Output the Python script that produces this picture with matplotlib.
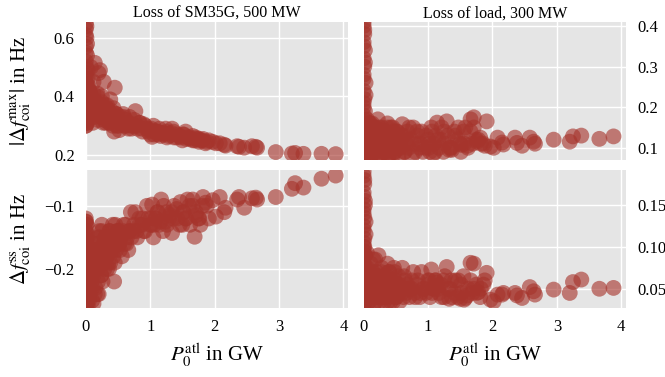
import matplotlib
matplotlib.use('Agg')
import matplotlib.pyplot as plt

# active power flow over the line, P0 atl in GW (shared by all four panels)
p0_atl = [
    # column at zero
    0.00, 0.00, 0.01, 0.00, 0.02, 0.00, 0.01, 0.00, 0.03, 0.00,
    0.01, 0.00, 0.02, 0.00, 0.00, 0.01, 0.03, 0.00, 0.02, 0.00,
    0.00, 0.01, 0.00, 0.02, 0.00, 0.03, 0.01, 0.00, 0.02, 0.00,
    0.00, 0.01, 0.00, 0.02, 0.00, 0.01, 0.00, 0.03, 0.00, 0.01,
    0.00, 0.02, 0.00, 0.01, 0.00, 0.03, 0.00, 0.02, 0.00, 0.01,
    # dense cluster
    0.05, 0.06, 0.08, 0.09, 0.10, 0.11, 0.12, 0.14, 0.15, 0.16,
    0.18, 0.19, 0.20, 0.22, 0.23, 0.25, 0.26, 0.28, 0.30, 0.31,
    0.33, 0.35, 0.37, 0.38, 0.40, 0.42, 0.44, 0.45, 0.47, 0.50,
    0.52, 0.54, 0.56, 0.58, 0.60, 0.62, 0.64, 0.66, 0.68, 0.70,
    0.02, 0.04, 0.05, 0.07, 0.08, 0.10, 0.11, 0.13, 0.14, 0.16,
    0.17, 0.19, 0.21, 0.22, 0.24, 0.25, 0.27, 0.29, 0.30, 0.32,
    0.34, 0.35, 0.37, 0.39, 0.41, 0.43, 0.46, 0.48, 0.51, 0.53,
    0.03, 0.06, 0.09, 0.12, 0.15, 0.18, 0.21, 0.24, 0.27, 0.30,
    0.33, 0.36, 0.39, 0.42, 0.45, 0.48, 0.51, 0.55, 0.59, 0.63,
    0.67, 0.71, 0.75, 0.79, 0.83, 0.87, 0.92, 0.97, 1.02, 1.08,
    # middle band
    0.74, 0.77, 0.80, 0.84, 0.88, 0.90, 0.95, 1.00, 1.03, 1.05,
    1.09, 1.12, 1.14, 1.17, 1.20, 1.25, 1.29, 1.34, 1.37, 1.42,
    1.47, 1.50, 1.52, 1.55, 1.58, 1.62, 1.66, 1.69, 1.71, 1.75,
    1.78, 1.82, 1.88, 1.91,
    1.01, 1.06, 1.11, 1.16, 1.21, 1.26, 1.31, 1.36, 1.41, 1.46,
    1.51, 1.56, 1.61, 1.66, 1.71, 1.76, 1.81, 1.86, 1.24, 1.33,
    # tail
    1.97, 2.02, 2.08, 2.15, 2.17, 2.35, 2.38, 2.46, 2.58, 2.64,
    2.66, 2.95, 3.20, 3.25, 3.38, 3.66, 3.88,
]

# |df max| for loss of SM35G
df_max_gen = [
    0.65, 0.63, 0.60, 0.57, 0.54, 0.52, 0.50, 0.48, 0.46, 0.45,
    0.44, 0.43, 0.42, 0.41, 0.40, 0.39, 0.38, 0.37, 0.36, 0.36,
    0.35, 0.35, 0.34, 0.34, 0.33, 0.33, 0.32, 0.32, 0.31, 0.30,
    0.30, 0.31, 0.32, 0.33, 0.34, 0.35, 0.36, 0.37, 0.38, 0.39,
    0.40, 0.41, 0.42, 0.44, 0.47, 0.49, 0.55, 0.58, 0.61, 0.64,
    0.42, 0.36, 0.50, 0.33, 0.39, 0.31, 0.45, 0.515, 0.37, 0.34,
    0.41, 0.32, 0.48, 0.49, 0.36, 0.40, 0.33, 0.45, 0.35, 0.31,
    0.37, 0.34, 0.32, 0.39, 0.35, 0.33, 0.28, 0.43, 0.34, 0.32,
    0.285, 0.33, 0.31, 0.34, 0.30, 0.32, 0.31, 0.29, 0.33, 0.30,
    0.40, 0.38, 0.35, 0.41, 0.37, 0.34, 0.36, 0.39, 0.33, 0.38,
    0.35, 0.37, 0.34, 0.36, 0.33, 0.38, 0.35, 0.32, 0.34, 0.36,
    0.33, 0.35, 0.31, 0.34, 0.32, 0.36, 0.33, 0.30, 0.32, 0.31,
    0.44, 0.42, 0.39, 0.41, 0.36, 0.40, 0.37, 0.35, 0.31, 0.37,
    0.34, 0.31, 0.33, 0.30, 0.32, 0.34, 0.30, 0.31, 0.33, 0.30,
    0.31, 0.29, 0.32, 0.30, 0.31, 0.29, 0.30, 0.28, 0.29, 0.28,
    0.30, 0.35, 0.29, 0.31, 0.28, 0.305, 0.29, 0.27, 0.262, 0.30,
    0.28, 0.27, 0.29, 0.275, 0.27, 0.28, 0.265, 0.29, 0.26, 0.27,
    0.26, 0.25, 0.27, 0.28, 0.26, 0.255, 0.265, 0.25, 0.26, 0.255,
    0.25, 0.255, 0.245, 0.25,
    0.285, 0.27, 0.28, 0.265, 0.275, 0.26, 0.27, 0.28, 0.26, 0.265,
    0.27, 0.255, 0.26, 0.25, 0.255, 0.245, 0.25, 0.24, 0.29, 0.275,
    0.245, 0.24, 0.24, 0.235, 0.232, 0.23, 0.228, 0.225, 0.23, 0.228,
    0.225, 0.21, 0.205, 0.207, 0.204, 0.204, 0.203,
]

# |df max| for loss of load
df_max_load = [
    0.41, 0.40, 0.38, 0.36, 0.34, 0.32, 0.30, 0.28, 0.26, 0.24,
    0.22, 0.20, 0.19, 0.18, 0.17, 0.16, 0.15, 0.14, 0.13, 0.13,
    0.12, 0.12, 0.11, 0.11, 0.10, 0.10, 0.09, 0.09, 0.08, 0.08,
    0.08, 0.085, 0.09, 0.095, 0.10, 0.105, 0.11, 0.115, 0.12, 0.125,
    0.13, 0.14, 0.15, 0.16, 0.21, 0.23, 0.27, 0.31, 0.35, 0.39,
    0.17, 0.09, 0.14, 0.11, 0.16, 0.08, 0.13, 0.10, 0.15, 0.12,
    0.09, 0.14, 0.11, 0.17, 0.08, 0.13, 0.10, 0.15, 0.12, 0.09,
    0.14, 0.11, 0.16, 0.08, 0.13, 0.10, 0.12, 0.15, 0.09, 0.11,
    0.14, 0.08, 0.12, 0.10, 0.158, 0.13, 0.09, 0.11, 0.14, 0.10,
    0.15, 0.12, 0.09, 0.14, 0.11, 0.13, 0.08, 0.16, 0.10, 0.12,
    0.14, 0.09, 0.13, 0.11, 0.15, 0.08, 0.12, 0.10, 0.14, 0.09,
    0.13, 0.11, 0.15, 0.08, 0.12, 0.10, 0.14, 0.09, 0.13, 0.11,
    0.10, 0.13, 0.16, 0.09, 0.12, 0.15, 0.08, 0.11, 0.14, 0.10,
    0.13, 0.09, 0.12, 0.15, 0.08, 0.11, 0.14, 0.10, 0.13, 0.09,
    0.12, 0.15, 0.08, 0.11, 0.14, 0.10, 0.09, 0.13, 0.11, 0.085,
    0.12, 0.15, 0.09, 0.13, 0.11, 0.14, 0.10, 0.12, 0.09, 0.15,
    0.11, 0.13, 0.162, 0.10, 0.12, 0.14, 0.165, 0.10, 0.095, 0.13,
    0.15, 0.11, 0.107, 0.14, 0.15, 0.10, 0.17, 0.11, 0.175, 0.12,
    0.12, 0.11, 0.105, 0.165,
    0.10, 0.14, 0.09, 0.12, 0.15, 0.11, 0.13, 0.10, 0.14, 0.12,
    0.09, 0.11, 0.105, 0.14, 0.15, 0.115, 0.125, 0.11, 0.09, 0.095,
    0.103, 0.10, 0.125, 0.113, 0.108, 0.125, 0.112, 0.105, 0.125, 0.115,
    0.11, 0.12, 0.115, 0.128, 0.13, 0.122, 0.128,
]

# df steady state for loss of SM35G
df_ss_gen = [
    -0.12, -0.125, -0.13, -0.14, -0.145, -0.15, -0.155, -0.16, -0.165, -0.17,
    -0.175, -0.18, -0.185, -0.19, -0.195, -0.20, -0.205, -0.21, -0.215, -0.22,
    -0.225, -0.23, -0.235, -0.24, -0.245, -0.25, -0.255, -0.26, -0.20, -0.18,
    -0.26, -0.25, -0.24, -0.23, -0.22, -0.21, -0.20, -0.19, -0.18, -0.17,
    -0.16, -0.15, -0.14, -0.13, -0.125, -0.20, -0.22, -0.24, -0.19, -0.17,
    -0.20, -0.24, -0.17, -0.22, -0.25, -0.19, -0.21, -0.16, -0.23, -0.18,
    -0.20, -0.15, -0.24, -0.17, -0.19, -0.13, -0.22, -0.16, -0.18, -0.15,
    -0.20, -0.17, -0.14, -0.19, -0.16, -0.13, -0.22, -0.15, -0.17, -0.14,
    -0.16, -0.15, -0.18, -0.14, -0.16, -0.13, -0.15, -0.17, -0.14, -0.11,
    -0.22, -0.19, -0.25, -0.18, -0.21, -0.23, -0.17, -0.20, -0.24, -0.16,
    -0.19, -0.22, -0.15, -0.18, -0.21, -0.14, -0.17, -0.20, -0.15, -0.18,
    -0.16, -0.19, -0.14, -0.17, -0.15, -0.18, -0.13, -0.16, -0.14, -0.17,
    -0.26, -0.23, -0.20, -0.255, -0.17, -0.24, -0.14, -0.21, -0.19, -0.16,
    -0.18, -0.20, -0.15, -0.17, -0.19, -0.14, -0.16, -0.15, -0.13, -0.16,
    -0.14, -0.15, -0.13, -0.14, -0.12, -0.13, -0.14, -0.12, -0.13, -0.12,
    -0.14, -0.11, -0.15, -0.13, -0.12, -0.14, -0.10, -0.13, -0.098, -0.15,
    -0.12, -0.11, -0.13, -0.09, -0.14, -0.11, -0.12, -0.143, -0.10, -0.12,
    -0.094, -0.13, -0.11, -0.12, -0.09, -0.13, -0.10, -0.149, -0.11, -0.12,
    -0.13, -0.086, -0.10, -0.12,
    -0.12, -0.13, -0.11, -0.125, -0.10, -0.13, -0.115, -0.12, -0.105, -0.13,
    -0.11, -0.12, -0.10, -0.09, -0.115, -0.12, -0.10, -0.095, -0.125, -0.11,
    -0.091, -0.117, -0.086, -0.11, -0.103, -0.09, -0.086, -0.103, -0.088, -0.087,
    -0.09, -0.086, -0.073, -0.064, -0.071, -0.057, -0.052,
]

# df steady state for loss of load
df_ss_load = [
    0.19, 0.185, 0.175, 0.165, 0.155, 0.145, 0.135, 0.125, 0.115, 0.105,
    0.10, 0.095, 0.09, 0.085, 0.08, 0.075, 0.07, 0.065, 0.06, 0.058,
    0.055, 0.052, 0.05, 0.048, 0.045, 0.042, 0.04, 0.037, 0.035, 0.032,
    0.03, 0.035, 0.04, 0.045, 0.05, 0.055, 0.06, 0.065, 0.07, 0.075,
    0.08, 0.09, 0.10, 0.11, 0.12, 0.13, 0.14, 0.15, 0.16, 0.18,
    0.093, 0.04, 0.07, 0.035, 0.06, 0.08, 0.045, 0.065, 0.03, 0.055,
    0.085, 0.04, 0.07, 0.05, 0.09, 0.035, 0.06, 0.075, 0.045, 0.065,
    0.04, 0.055, 0.08, 0.035, 0.07, 0.05, 0.06, 0.045, 0.075, 0.04,
    0.055, 0.065, 0.035, 0.05, 0.075, 0.04, 0.06, 0.045, 0.055, 0.05,
    0.06, 0.045, 0.075, 0.05, 0.035, 0.065, 0.055, 0.04, 0.07, 0.05,
    0.06, 0.035, 0.045, 0.065, 0.055, 0.04, 0.07, 0.05, 0.06, 0.035,
    0.045, 0.065, 0.05, 0.04, 0.06, 0.055, 0.035, 0.07, 0.045, 0.05,
    0.07, 0.05, 0.04, 0.06, 0.085, 0.045, 0.055, 0.065, 0.04, 0.05,
    0.06, 0.045, 0.07, 0.035, 0.05, 0.06, 0.04, 0.055, 0.045, 0.065,
    0.05, 0.04, 0.06, 0.045, 0.055, 0.04, 0.05, 0.045, 0.06, 0.05,
    0.05, 0.07, 0.04, 0.06, 0.045, 0.07, 0.05, 0.06, 0.04, 0.073,
    0.05, 0.06, 0.057, 0.045, 0.055, 0.04, 0.076, 0.05, 0.04, 0.06,
    0.06, 0.038, 0.045, 0.065, 0.039, 0.05, 0.081, 0.045, 0.08, 0.055,
    0.046, 0.05, 0.06, 0.069,
    0.055, 0.045, 0.06, 0.05, 0.04, 0.065, 0.05, 0.06, 0.045, 0.04,
    0.055, 0.037, 0.042, 0.06, 0.05, 0.045, 0.04, 0.055, 0.06, 0.038,
    0.037, 0.035, 0.043, 0.043, 0.045, 0.045, 0.042, 0.039, 0.052, 0.047,
    0.043, 0.049, 0.045, 0.058, 0.061, 0.05, 0.051,
]

titles = ['Loss of SM35G, 500 MW', 'Loss of load, 300 MW']
ylabels = [r'$|\Delta f_{\mathrm{coi}}^{\mathrm{max}}|$ in Hz',
           r'$\Delta f_{\mathrm{coi}}^{\mathrm{ss}}$ in Hz']
xlabel = r'$P_0^{\mathrm{atl}}$ in GW'

plt.rcParams['font.family'] = ['Liberation Serif', 'DejaVu Serif']
plt.rcParams['mathtext.fontset'] = 'stix'

color = '#a6342c'

fig, axes = plt.subplots(2, 2, figsize=(6.65, 3.77), dpi=100, sharex=True)
fig.subplots_adjust(left=0.129, right=0.941, top=0.942, bottom=0.183,
                    wspace=0.06, hspace=0.072)

data = [[df_max_gen, df_max_load], [df_ss_gen, df_ss_load]]
ylims = [[(0.183, 0.655), (0.07, 0.41)], [(-0.262, -0.043), (0.027, 0.192)]]
yticks = [[[0.2, 0.4, 0.6], [0.1, 0.2, 0.3, 0.4]],
          [[-0.2, -0.1], [0.05, 0.10, 0.15]]]

for r in range(2):
    for c in range(2):
        ax = axes[r][c]
        ax.set_facecolor('#e5e5e5')
        ax.scatter(p0_atl, data[r][c], s=130, color=color, alpha=0.62,
                   edgecolors='none', zorder=3)
        for sp in ax.spines.values():
            sp.set_visible(False)
        ax.grid(True, color='white', linewidth=1.0, zorder=0)
        ax.set_axisbelow(True)
        ax.set_xlim(0, 4.07)
        ax.set_xticks([0, 1, 2, 3, 4])
        ax.set_ylim(*ylims[r][c])
        ax.set_yticks(yticks[r][c])
        ax.tick_params(length=0, pad=8, labelsize=12, colors='black')
        if c == 1:
            ax.yaxis.tick_right()
            if r == 1:
                ax.set_yticklabels(['0.05', '0.10', '0.15'])
        else:
            ax.set_ylabel(ylabels[r], fontsize=15)
            ax.yaxis.set_label_coords(-0.2, 0.5)
        if r == 0:
            ax.set_title(titles[c], fontsize=11.5, pad=3)
            ax.tick_params(labelbottom=False)
        else:
            ax.set_xlabel(xlabel, fontsize=15, labelpad=5)

fig.savefig('out.png', dpi=100)
